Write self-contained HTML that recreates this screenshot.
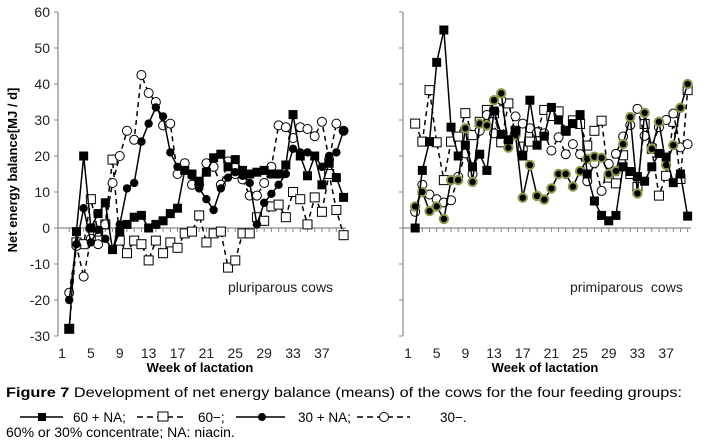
<!DOCTYPE html>
<html><head><meta charset="utf-8"><style>
body{margin:0;background:#fff;width:707px;height:441px;overflow:hidden;font-family:"Liberation Sans",Arial,sans-serif}
svg{position:absolute;left:0;top:0}
</style></head><body>
<svg width="707" height="441" id="chart" font-family="Liberation Sans, Arial, sans-serif">
<g id="axes"></g><g id="series"></g>
<text x="17" y="170" transform="rotate(-90 17 170)" text-anchor="middle" font-size="13" font-weight="bold">Net energy balance[MJ / d]</text>
<text x="200" y="372" text-anchor="middle" font-size="13" font-weight="bold">Week of lactation</text>
<text x="545" y="372" text-anchor="middle" font-size="13" font-weight="bold">Week of lactation</text>
<text x="228" y="292" font-size="14" fill="#222">pluriparous cows</text>
<text x="570" y="292" font-size="14" fill="#222" xml:space="preserve">primiparous  cows</text>
<text x="6" y="397" font-size="14" textLength="676" lengthAdjust="spacingAndGlyphs"><tspan font-weight="bold">Figure 7</tspan> Development of net energy balance (means) of the cows for the four feeding groups:</text>
<g>
<line x1="20" y1="417" x2="63" y2="417" stroke="#000" stroke-width="1.5"/><rect x="38" y="413" width="8" height="8" fill="#000"/>
<text x="73" y="422" font-size="13.5">60 + NA;</text>
<line x1="137" y1="417" x2="186" y2="417" stroke="#000" stroke-width="1.5" stroke-dasharray="6,4"/><rect x="158" y="412" width="10" height="9" fill="#fff" stroke="#000"/>
<text x="198" y="422" font-size="13.5">60−;</text>
<line x1="236" y1="417" x2="285" y2="417" stroke="#000" stroke-width="1.5"/><circle cx="262" cy="417" r="4" fill="#000"/>
<text x="298" y="422" font-size="13.5">30 + NA;</text>
<line x1="357" y1="417" x2="410" y2="417" stroke="#000" stroke-width="1.5" stroke-dasharray="6,4"/><circle cx="384" cy="417" r="4.5" fill="#fff" stroke="#000"/>
<text x="440" y="422" font-size="13.5">30−.</text>
</g>
<text x="6" y="437" font-size="14">60% or 30% concentrate; NA: niacin.</text>
</svg>
<script>
const weeks=[2,3,4,5,6,7,8,9,10,11,12,13,14,15,16,17,18,19,20,21,22,23,24,25,26,27,28,29,30,31,32,33,34,35,36,37,38,39,40];
const yTicks=[60,50,40,30,20,10,0,-10,-20,-30];
const xTicks=[1,5,9,13,17,21,25,29,33,37];
const pluri60NA=[-28,-1,20,0,4,7,-6,-1,1,3,3.5,0,1,2,4,5.5,16,15,13,15.5,19.5,20.5,17,19,16,15,15.5,16,15,15,17.5,31.5,20,14.5,20,12,18,14,8.5];
const pluri60=[-28,-4,-4.5,8,-1,1,19,-3.5,-7,-3.5,-4.5,-9,-3.5,-7,-4,-5.5,-1.5,-1,3.5,-4,-1.5,-1,-11,-9,-1.5,-1.5,3,2,6,6.5,3,10,8,1,8.5,4.5,15,5,-2];
const pluri30NA=[-20,-4.5,5.5,-4,-0.5,-3,-6,1,11,12.5,24,29,33.5,31,21,17,16,14.5,11,8,5,11,14,15.5,14.5,12.5,1,7,9.5,12,15,22,21,21,20,17,20,21,27];
const pluri30=[-18,-5,-13.5,-3,-4.5,1,12.5,20,27,24.5,42.5,37.5,35,28.5,29,15,18,12,12,18,17,12,18.5,15,13.5,9,9,12.5,17,28.5,28,25,28,27.5,25.5,29.5,19,29,27];
const primi60NA=[0,16,24,46,55,28,20,23,17,20.5,16,32.5,26,24.5,27,20,35.5,23,25.5,33.5,30,27,29,31.5,15,7.5,3.5,2,3.5,17,15.7,14.3,13,17,20.7,19.7,12.6,15,3.3];
const primi60=[29,24,38.3,23.8,13.3,24,25.4,31.9,25.8,29.5,32.8,31.9,23.8,34.6,27,22.6,24,26.6,32.8,31.1,32.4,27,29.9,28.9,22.9,27,29.8,14,12.4,20.2,15,11.4,28.9,22,9,14.5,29.5,13.6,38.3];
const primi30NA=[6,10,4.7,6,2.5,13.3,13.3,27.7,12.8,29,28.5,35.5,37.4,22.3,25.8,8.4,17.5,8.9,7.9,11,15,15,11.5,15.8,19.2,19.8,19.5,15,15.8,23.3,30.8,9.6,32,22,29.5,17.5,23,33.4,40];
const primi30=[4.5,12,9.3,8,7.1,7.7,14.2,20.7,15,27,31.4,26.3,35.6,24,31,29,27.7,26.6,26.3,21.5,25.2,20.5,23.3,20.5,13,18,10.3,17.8,20.6,25.4,28.6,33.1,25.6,22.6,28,30,31.8,22.4,23.3];

const NS='http://www.w3.org/2000/svg';
const axesG=document.getElementById('axes'),serG=document.getElementById('series');
const yPix=v=>228-v*3.6;
function mk(tag,attrs,parent){const e=document.createElementNS(NS,tag);for(const k in attrs)e.setAttribute(k,attrs[k]);parent.appendChild(e);return e;}
const panels=[
 {ax:58,x1:62,dx:7.22,end:346,sets:[[pluri60,'60-',],[pluri30,'30-'],[pluri30NA,'30NA'],[pluri60NA,'60NA']],labels:true,name:'left'},
 {ax:403,x1:408,dx:7.17,end:691,sets:[[primi60,'60-'],[primi30,'30-'],[primi30NA,'30NA'],[primi60NA,'60NA']],labels:false,name:'right'}];
panels.forEach(p=>{
 const xPix=w=>p.x1+(w-1)*p.dx;
 const ya=mk('line',{x1:p.ax,y1:yPix(60),x2:p.ax,y2:yPix(-30),stroke:'#888','stroke-width':1.2},axesG);
 
 
 yTicks.forEach(t=>{
  const tk=mk('line',{x1:p.ax-4,y1:yPix(t),x2:p.ax,y2:yPix(t),stroke:'#888'},axesG);
  
  
  if(p.labels){const tx=mk('text',{x:p.ax-8,y:yPix(t)+5,'text-anchor':'end','font-size':14,fill:'#222'},axesG);tx.textContent=t;
   
   }
 });
 const xa=mk('line',{x1:p.ax,y1:yPix(0),x2:p.end,y2:yPix(0),stroke:'#888','stroke-width':1.2},axesG);
 
 
 weeks.forEach(w=>{const tk=mk('line',{x1:xPix(w),y1:yPix(0),x2:xPix(w),y2:yPix(0)+4,stroke:'#888'},axesG);
  
  });
 xTicks.forEach(t=>{const tx=mk('text',{x:xPix(t),y:358,'text-anchor':'middle','font-size':14,fill:'#222'},axesG);tx.textContent=t;
  
  });
 p.sets.forEach(([vals,kind])=>{
  const g=mk('g',{},serG);
  
  
  const pts=vals.map((v,i)=>xPix(weeks[i]).toFixed(1)+','+yPix(v).toFixed(1)).join(' ');
  const dashed=kind.endsWith('-');
  mk('polyline',{points:pts,fill:'none',stroke:'#000','stroke-width':1.5,'stroke-dasharray':dashed?'5,4':'none'},g);
  vals.forEach((v,i)=>{
   const x=xPix(weeks[i]),y=yPix(v);let m;
   if(kind==='60NA')m=mk('rect',{x:x-4.5,y:y-4.5,width:9,height:9,fill:'#000'},g);
   else if(kind==='60-')m=mk('rect',{x:x-4.5,y:y-4.5,width:9,height:9,fill:'#fff',stroke:'#000'},g);
   else if(kind==='30NA')m=mk('circle',{cx:x,cy:y,r:4.2,fill:'#000',stroke:p.name==='right'?'#8c9a4a':'none','stroke-width':2},g);
   else m=mk('circle',{cx:x,cy:y,r:4.5,fill:'#fff',stroke:'#000'},g);
   
   
  });
 });
});
</script>
</body></html>
